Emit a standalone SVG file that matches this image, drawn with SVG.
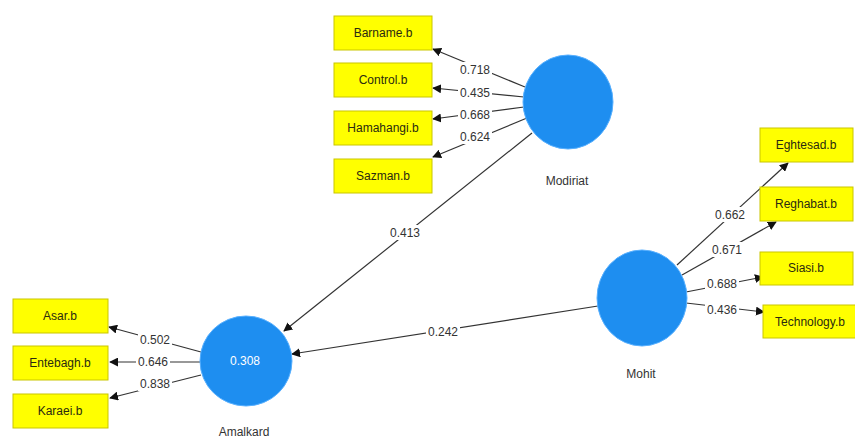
<svg xmlns="http://www.w3.org/2000/svg" width="855" height="441" viewBox="0 0 855 441">
<defs>
<marker id="ah" viewBox="0 0 10 10" refX="9" refY="5" markerWidth="9" markerHeight="9" markerUnits="userSpaceOnUse" orient="auto">
<path d="M0,0 L10,5 L0,10 z" fill="#111"/>
</marker>
<style>
.box{fill:#ffff00;stroke:#c9c600;stroke-width:1}
.bt{font-family:"Liberation Sans",Arial,sans-serif;font-size:12px;fill:#2a2a10;text-anchor:middle}
.lv{fill:#1e8ef0;stroke:#58b0ff;stroke-width:1}
.lt{font-family:"Liberation Sans",Arial,sans-serif;font-size:12px;fill:#333;text-anchor:middle}
.ln{stroke:#333;stroke-width:1.2;fill:none;marker-end:url(#ah)}
.lb{font-family:"Liberation Sans",Arial,sans-serif;font-size:12px;fill:#333;text-anchor:middle}
.lbg{fill:#fff}
</style>
</defs>
<rect width="855" height="441" fill="#fff"/>
<g id="connectors">
<line class="ln" x1="525" y1="87" x2="433" y2="49"/>
<line class="ln" x1="524" y1="97" x2="433" y2="88"/>
<line class="ln" x1="524" y1="107" x2="433" y2="119"/>
<line class="ln" x1="527" y1="118" x2="433" y2="157"/>
<line class="ln" x1="532" y1="133" x2="284" y2="331"/>
<line class="ln" x1="598" y1="306" x2="292" y2="354"/>
<line class="ln" x1="677" y1="265" x2="788" y2="163"/>
<line class="ln" x1="682" y1="275" x2="776" y2="222"/>
<line class="ln" x1="686" y1="292" x2="763" y2="277"/>
<line class="ln" x1="686" y1="303" x2="764" y2="312"/>
<line class="ln" x1="201" y1="352" x2="109" y2="327"/>
<line class="ln" x1="200" y1="362" x2="110" y2="362"/>
<line class="ln" x1="201" y1="375" x2="110" y2="398"/>
<g>
<rect class="lbg" x="458" y="62" width="34" height="15"/><text class="lb" x="475" y="74">0.718</text>
<rect class="lbg" x="458" y="85" width="34" height="15"/><text class="lb" x="475" y="97">0.435</text>
<rect class="lbg" x="458" y="107" width="34" height="15"/><text class="lb" x="475" y="119">0.668</text>
<rect class="lbg" x="458" y="129" width="34" height="15"/><text class="lb" x="475" y="141">0.624</text>
<rect class="lbg" x="388" y="225" width="34" height="15"/><text class="lb" x="405" y="237">0.413</text>
<rect class="lbg" x="426" y="324" width="34" height="15"/><text class="lb" x="443" y="336">0.242</text>
<rect class="lbg" x="713" y="207" width="34" height="15"/><text class="lb" x="730" y="219">0.662</text>
<rect class="lbg" x="710" y="242" width="34" height="15"/><text class="lb" x="727" y="254">0.671</text>
<rect class="lbg" x="705" y="276" width="34" height="15"/><text class="lb" x="722" y="288">0.688</text>
<rect class="lbg" x="705" y="302" width="34" height="15"/><text class="lb" x="722" y="314">0.436</text>
<rect class="lbg" x="138" y="332" width="34" height="15"/><text class="lb" x="155" y="344">0.502</text>
<rect class="lbg" x="136" y="354" width="34" height="15"/><text class="lb" x="153" y="366">0.646</text>
<rect class="lbg" x="138" y="376" width="34" height="15"/><text class="lb" x="155" y="388">0.838</text>
</g>
</g>
<g id="Modiriat">
<ellipse class="lv" cx="568" cy="102" rx="45" ry="47"/>
<text class="lt" x="567" y="185">Modiriat</text>
</g>
<g id="Mohit">
<ellipse class="lv" cx="642" cy="298" rx="45" ry="48"/>
<text class="lt" x="641" y="378">Mohit</text>
</g>
<g id="Amalkard">
<ellipse class="lv" cx="246" cy="361" rx="46" ry="45"/>
<text x="245" y="365" style="font-family:'Liberation Sans',Arial,sans-serif;font-size:12px;fill:#fff;text-anchor:middle">0.308</text>
<text class="lt" x="244" y="436">Amalkard</text>
</g>
<g id="Barname.b"><rect class="box" x="334" y="16" width="98" height="34"/><text class="bt" x="383" y="37">Barname.b</text></g>
<g id="Control.b"><rect class="box" x="334" y="63" width="98" height="34"/><text class="bt" x="383" y="84">Control.b</text></g>
<g id="Hamahangi.b"><rect class="box" x="334" y="111" width="98" height="34"/><text class="bt" x="383" y="132">Hamahangi.b</text></g>
<g id="Sazman.b"><rect class="box" x="334" y="159" width="98" height="34"/><text class="bt" x="383" y="180">Sazman.b</text></g>
<g id="Eghtesad.b"><rect class="box" x="760" y="128" width="93" height="34"/><text class="bt" x="806" y="149">Eghtesad.b</text></g>
<g id="Reghabat.b"><rect class="box" x="760" y="187" width="93" height="34"/><text class="bt" x="806" y="208">Reghabat.b</text></g>
<g id="Siasi.b"><rect class="box" x="760" y="252" width="93" height="33"/><text class="bt" x="806" y="272">Siasi.b</text></g>
<g id="Technology.b"><rect class="box" x="763" y="305" width="100" height="33"/><text class="bt" x="810" y="326">Technology.b</text></g>
<g id="Asar.b"><rect class="box" x="13" y="299" width="95" height="34"/><text class="bt" x="60" y="320">Asar.b</text></g>
<g id="Entebagh.b"><rect class="box" x="13" y="346" width="95" height="34"/><text class="bt" x="60" y="367">Entebagh.b</text></g>
<g id="Karaei.b"><rect class="box" x="13" y="394" width="95" height="34"/><text class="bt" x="60" y="415">Karaei.b</text></g>
</svg>
